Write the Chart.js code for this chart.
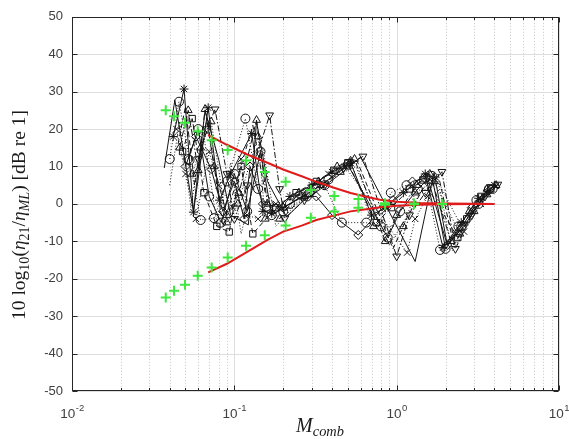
<!DOCTYPE html>
<html lang="en">
<head>
  <meta charset="UTF-8" />
  <title>Loss factor ratio vs M_comb</title>
  <script src="https://cdn.jsdelivr.net/npm/chart.js"></script>
  <style>
    * { box-sizing: border-box; margin: 0; padding: 0; }
    body { background: #fff; width: 569px; height: 439px; overflow: hidden; }
    canvas { display: block; }
  </style>
</head>
<body>
  <canvas id="chart" width="569" height="439"></canvas>

  <script>
    // axes
    const xMin = 0.01, xMax = 10;
    const yMin = -50, yMax = 50;
    const xDecades = [0.01, 0.1, 1, 10];
    const xExponents = ["-2", "-1", "0", "1"];
    const xMinorSteps = [2, 3, 4, 5, 6, 7, 8, 9];

    // green crosses (asymptotes)
    const greenX = [0.0378, 0.0425, 0.0497, 0.0595, 0.0725, 0.091, 0.118, 0.154, 0.207, 0.296, 0.413, 0.581, 0.848, 1.28, 1.9];
    const greenUpper = [25, 23.4, 21.7, 19.4, 17, 14.4, 11.6, 8.5, 5.9, 3.7, 2.1, 1.3, 0.2, 0.1, 0];
    const greenLower = [-25, -23.2, -21.6, -19.2, -17, -14.3, -11.2, -8.4, -5.8, -3.7, -2, -1, -0.2, -0.1, 0];

    // red curves
    const redX = [0.069, 0.09, 0.12, 0.16, 0.2, 0.26, 0.32, 0.42, 0.52, 0.65, 0.79, 1.0, 1.4, 2.0, 3.0, 4.0];
    const redUpper = [18.4, 15.8, 13.2, 11, 9.2, 7.4, 5.9, 4.2, 2.9, 1.9, 1.1, 0.6, 0.25, 0.1, 0.02, 0];
    const redLower = [-18.3, -16, -12.8, -9.6, -7.4, -5.8, -4.3, -3, -2, -1.4, -0.9, -0.5, -0.2, -0.1, -0.02, 0];

    // black measured series
    const s1x = [0.037, 0.043, 0.056, 0.066, 0.08, 0.095, 0.122, 0.137, 0.16, 0.21, 0.26, 0.34, 0.45, 0.6, 1.3, 1.7, 2.05, 2.6, 3.3, 3.9];
    const s1y = [9.6, 27.7, -2, 25, 12, -3, -5.6, 22, 6, -3.5, 0.5, 4, 8, 12.5, -15.4, 8.4, -11, -6, 1, 4.5];
    const s2x = [0.04, 0.0456, 0.053, 0.062, 0.075, 0.09, 0.117, 0.14, 0.158, 0.2, 0.28, 0.36, 0.46, 0.65, 0.8, 0.92, 1.15, 1.5, 1.85, 2.4, 3.1, 3.7];
    const s2y = [12, 27.3, 11.7, -4.3, -3.8, 6, 22.8, 4, -0.7, -2, 2, 5, -5, -5, -6, 3, 5, 7, -12.3, -6, 1, 4];
    const s3x = [0.042, 0.049, 0.056, 0.069, 0.081, 0.095, 0.128, 0.15, 0.17, 0.22, 0.3, 0.4, 0.52, 0.7, 0.85, 1.1, 1.5, 1.93, 2.5, 3.2, 4.0];
    const s3y = [18, 30.7, -2.2, 25.7, 1, 8, 18.8, -2, -2.5, 2, 5, 8.5, 11, -3, -1, 3, 8, -11.7, -5, 1.5, 5];
    const s4x = [0.046, 0.052, 0.06, 0.066, 0.075, 0.09, 0.107, 0.137, 0.16, 0.19, 0.25, 0.33, 0.43, 0.55, 0.85, 1.0, 1.33, 1.6, 2.16, 2.8, 3.6];
    const s4y = [15, 25, 9, 25.3, 10, -3, 2.9, 22.4, 0, -4, 3, 6, 10, 12, -10, -3, 5, 8, -10, -2, 4];
    const s5x = [0.048, 0.055, 0.065, 0.078, 0.093, 0.11, 0.13, 0.18, 0.24, 0.32, 0.41, 0.5, 0.75, 0.93, 1.2, 1.45, 2.38, 2.7, 3.3, 3.8];
    const s5y = [14, 22.8, 3, -6, -7.5, 10, -8, -1, 3, 6, 9, 11, -5, -1, 4, 6.4, -9, -4, 2, 4];
    const s6x = [0.05, 0.058, 0.072, 0.085, 0.1, 0.115, 0.125, 0.15, 0.2, 0.26, 0.32, 0.4, 0.58, 0.8, 0.95, 1.25, 1.55, 2.05, 2.9, 3.7];
    const s6y = [10, 18, 9.3, -2, 6, -4, 10, 0, -1, 2, 2, -3, -8.3, -1.6, 1, 6, 7, -11, -1, 3.5];
    const s7x = [0.044, 0.05, 0.058, 0.07, 0.08, 0.098, 0.11, 0.12, 0.14, 0.18, 0.24, 0.3, 0.38, 0.48, 1.16, 1.3, 1.55, 1.75, 2.6, 3.3, 4.1];
    const s7y = [20, 8, -4, 14, 5, -1, 12, -3, -4, 0, 2, 4.5, 8, 10, -13, -4, 2, 7, -7.4, 0, 4.8];
    const s8x = [0.06, 0.068, 0.076, 0.09, 0.1, 0.12, 0.165, 0.19, 0.205, 0.27, 0.36, 0.47, 0.62, 1.0, 1.2, 1.5, 1.9, 2.3, 2.9, 3.5, 4.2];
    const s8y = [12, 20, 25.3, 8, -4, 5, 23.7, 4, -3.8, 1, 5, 9.5, 12.7, -14, -3, 3, 8.6, -12, -3, 2, 5.2];
    const s9x = [0.04, 0.046, 0.054, 0.064, 0.078, 0.095, 0.11, 0.15, 0.18, 0.23, 0.3, 0.4, 0.56, 0.9, 1.1, 1.4, 1.8, 2.2, 2.8, 3.4, 4.0];
    const s9y = [5, 22, -1, 20, -5, 11, -8, 15, -6, -1, 3, 7, 10, -11, -5, 3, 6, -12.5, -5, 1.5, 3.5];
    const s10x = [0.045, 0.05, 0.057, 0.068, 0.085, 0.1, 0.13, 0.155, 0.19, 0.25, 0.33, 0.44, 0.57, 0.95, 1.15, 1.45, 1.8, 2.25, 2.9, 3.6];
    const s10y = [16, 26, 5, 23, -6, 4, 21, 3, -2, 1.5, 4.5, 8.5, 11.5, -12, -4, 4, 8, -11, -3, 3.5];
    const s11x = [0.052, 0.06, 0.07, 0.083, 0.1, 0.12, 0.145, 0.17, 0.22, 0.29, 0.38, 0.5, 0.88, 1.05, 1.35, 1.65, 2.0, 2.5, 3.2, 3.9];
    const s11y = [12, 20, 2, -5, 8, -2, 14, -3, 0, 3, 6.5, 10.5, -9, -2, 4, 7.5, -12, -6, 0, 4];
    const s12x = [0.055, 0.062, 0.072, 0.09, 0.105, 0.14, 0.155, 0.2, 0.27, 0.34, 0.45, 0.52, 0.72, 1.1, 1.3, 1.7, 2.45, 3.0, 3.6, 4.1];
    const s12y = [8, 15, 22, -5, 0, 18, -4, -1, 2, 5, 8.5, 11.5, -6, -6, 3, 6, -8, -2, 2.5, 5];

    const pts = (xs, ys) => xs.map((x, i) => ({ x: x, y: ys[i] }));

    const INK = "#141414";
    const black = (xs, ys, style, dash, rot) => ({
      data: pts(xs, ys),
      showLine: true,
      borderColor: INK,
      borderWidth: 1,
      borderDash: dash,
      pointStyle: style || false,
      pointRadius: style ? 4.5 : 0,
      pointRotation: rot || 0,
      pointBorderColor: INK,
      pointBorderWidth: 1,
      pointBackgroundColor: "rgba(0,0,0,0)",
      order: 3
    });

    const SOLID = [], DOT = [1, 2], DASH = [5, 3], DASHDOT = [6, 2, 1.5, 2];

    // grid, ticks, frame and labels drawn by hand, MATLAB style
    const matlabAxes = {
      id: "matlabAxes",
      beforeDatasetsDraw(chart) {
        const { ctx, chartArea: a, scales: { x, y } } = chart;
        ctx.save();
        ctx.lineWidth = 1;
        // minor x grid, dotted
        ctx.strokeStyle = "#c6c6c6";
        ctx.setLineDash([1, 2]);
        xDecades.slice(0, 3).forEach(d => {
          xMinorSteps.forEach(m => {
            const px = Math.round(x.getPixelForValue(m * d)) + 0.5;
            ctx.beginPath(); ctx.moveTo(px, a.top); ctx.lineTo(px, a.bottom); ctx.stroke();
          });
        });
        // major grid, solid
        ctx.setLineDash([]);
        ctx.strokeStyle = "#dedede";
        xDecades.forEach(d => {
          const px = Math.round(x.getPixelForValue(d)) + 0.5;
          ctx.beginPath(); ctx.moveTo(px, a.top); ctx.lineTo(px, a.bottom); ctx.stroke();
        });
        y.ticks.forEach(t => {
          const py = Math.round(y.getPixelForValue(t.value)) + 0.5;
          ctx.beginPath(); ctx.moveTo(a.left, py); ctx.lineTo(a.right, py); ctx.stroke();
        });
        ctx.restore();
      },
      afterDatasetsDraw(chart) {
        const { ctx, chartArea: a, scales: { x, y } } = chart;
        ctx.save();
        ctx.strokeStyle = "#262626";
        ctx.lineWidth = 1;
        const L = Math.round(a.left) + 0.5, R = Math.round(a.right) - 0.5;
        const T = Math.round(a.top) + 0.5, B = Math.round(a.bottom) - 0.5;
        ctx.strokeRect(L, T, R - L, B - T);
        // inward ticks on all sides
        ctx.beginPath();
        y.ticks.forEach(t => {
          const py = Math.round(y.getPixelForValue(t.value)) + 0.5;
          ctx.moveTo(L, py); ctx.lineTo(L + 5, py);
          ctx.moveTo(R, py); ctx.lineTo(R - 5, py);
        });
        xDecades.forEach(d => {
          const px = Math.round(x.getPixelForValue(d)) + 0.5;
          ctx.moveTo(px, B); ctx.lineTo(px, B - 5);
          ctx.moveTo(px, T); ctx.lineTo(px, T + 5);
          if (d < xMax) xMinorSteps.forEach(m => {
            const qx = Math.round(x.getPixelForValue(m * d)) + 0.5;
            ctx.moveTo(qx, B); ctx.lineTo(qx, B - 2.5);
            ctx.moveTo(qx, T); ctx.lineTo(qx, T + 2.5);
          });
        });
        ctx.stroke();

        // x tick labels 10^n
        ctx.fillStyle = "#404040";
        ctx.textBaseline = "alphabetic";
        xDecades.forEach((d, i) => {
          const px = x.getPixelForValue(d);
          ctx.font = '13.5px "Liberation Sans", Arial, sans-serif';
          const wb = ctx.measureText("10").width;
          ctx.font = '9.5px "Liberation Sans", Arial, sans-serif';
          const we = ctx.measureText(xExponents[i]).width;
          const x0 = px - (wb + we) / 2;
          ctx.font = '13.5px "Liberation Sans", Arial, sans-serif';
          ctx.fillText("10", x0, 418);
          ctx.font = '9.5px "Liberation Sans", Arial, sans-serif';
          ctx.fillText(xExponents[i], x0 + wb + 0.5, 411);
        });

        // axis titles
        ctx.fillStyle = "#1a1a1a";
        const serif = '"Liberation Serif", "DejaVu Serif", serif';
        const rich = (parts, size, cx, cy) => {
          const fonts = parts.map(p => (p[2] ? "italic " : "") + (p[1] ? size * 0.72 : size) + "px " + serif);
          let w = 0;
          parts.forEach((p, i) => { ctx.font = fonts[i]; w += ctx.measureText(p[0]).width; });
          let cur = cx - w / 2;
          parts.forEach((p, i) => {
            ctx.font = fonts[i];
            ctx.fillText(p[0], cur, cy + (p[1] ? size * 0.28 : 0));
            cur += ctx.measureText(p[0]).width;
          });
        };
        ctx.textBaseline = "middle";
        rich([["M", false, true], ["comb", true, true]], 20, 320, 427);

        ctx.save();
        ctx.translate(20, 215);
        ctx.rotate(-Math.PI / 2);
        rich([
          ["10 log", false, false], ["10", true, false], ["(", false, false],
          ["η", false, true], ["21", true, false], ["/", false, false],
          ["η", false, true], ["ML", true, true], [") [dB re 1]", false, false]
        ], 19.5, 0, 0);
        ctx.restore();
        ctx.restore();
      }
    };

    new Chart(document.getElementById("chart").getContext("2d"), {
      type: "scatter",
      data: {
        datasets: [
          {
            data: pts(greenX, greenUpper), showLine: false, pointStyle: "cross",
            pointRadius: 5, pointBorderWidth: 2, pointBorderColor: "#3ee83e", order: 0
          },
          {
            data: pts(greenX, greenLower), showLine: false, pointStyle: "cross",
            pointRadius: 5, pointBorderWidth: 2, pointBorderColor: "#3ee83e", order: 0
          },
          { data: pts(redX, redUpper), showLine: true, borderColor: "#e01b1b", borderWidth: 2, pointRadius: 0, order: 1 },
          { data: pts(redX, redLower), showLine: true, borderColor: "#e01b1b", borderWidth: 2, pointRadius: 0, order: 1 },
          black(s1x, s1y, null, SOLID),
          black(s2x, s2y, "circle", DOT),
          black(s3x, s3y, "star", SOLID),
          black(s4x, s4y, "triangle", DASHDOT),
          black(s5x, s5y, "rect", DASH),
          black(s6x, s6y, "rectRot", SOLID),
          black(s7x, s7y, "crossRot", DOT),
          black(s8x, s8y, "triangle", DASHDOT, 180),
          black(s9x, s9y, null, DOT),
          black(s10x, s10y, null, DASH),
          black(s11x, s11y, "circle", SOLID),
          black(s12x, s12y, "triangle", DOT)
        ]
      },
      plugins: [matlabAxes],
      options: {
        responsive: false,
        animation: false,
        events: [],
        layout: { padding: { top: 16, right: 10, left: 0, bottom: 0 } },
        plugins: { legend: { display: false }, tooltip: { enabled: false } },
        scales: {
          x: {
            type: "logarithmic",
            min: xMin, max: xMax,
            grid: { display: false, drawTicks: false },
            border: { display: false },
            ticks: { display: false },
            afterFit: s => { s.height = 48; }
          },
          y: {
            min: yMin, max: yMax,
            grid: { display: false, drawTicks: false },
            border: { display: false },
            ticks: {
              stepSize: 10, padding: 9, color: "#404040",
              font: { family: '"Liberation Sans", Arial, sans-serif', size: 13 }
            },
            afterFit: s => { s.width = 72; }
          }
        }
      }
    });
  </script>
</body>
</html>
